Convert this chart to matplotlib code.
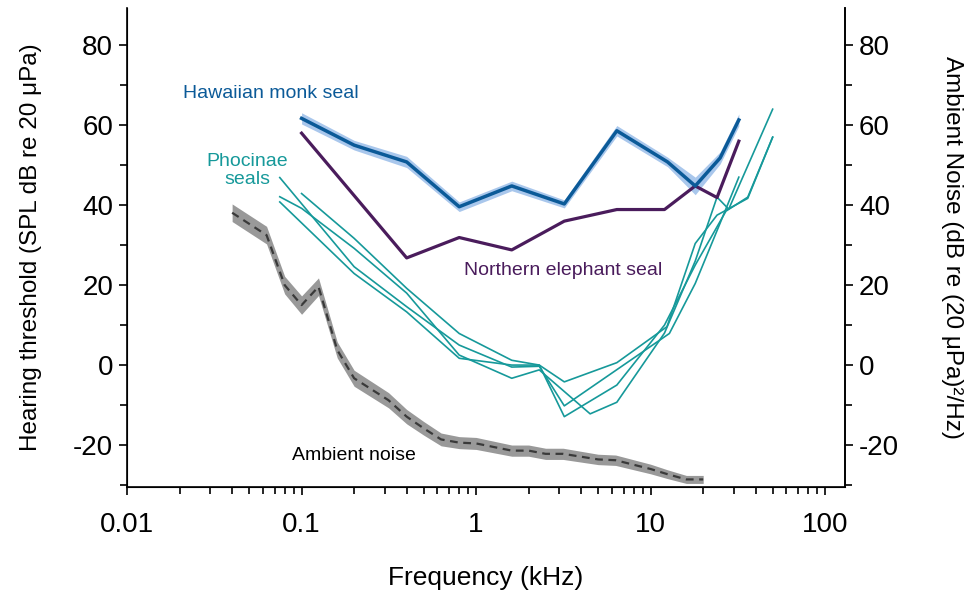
import matplotlib
matplotlib.use("Agg")
import matplotlib.pyplot as plt
import matplotlib.ticker as mticker
import numpy as np

plt.rcParams['font.family'] = ['Liberation Sans', 'DejaVu Sans']
plt.rcParams['axes.unicode_minus'] = False

# Hawaiian monk seal (mean + spread)
monk_khz = [0.1, 0.2, 0.4, 0.8, 1.6, 3.2, 6.4, 12.5, 18, 25, 32]
monk_db = [61.7, 55, 50.8, 39.6, 44.8, 40.3, 58.6, 50.8, 44.8, 51.8, 61.3]
monk_sd = [1.4, 1.2, 1.4, 1.2, 1.2, 1.0, 1.3, 1.2, 2.2, 1.5, 1.5]

# Northern elephant seal
eleph_khz = [0.1, 0.2, 0.4, 0.8, 1.6, 3.2, 6.4, 12, 18, 24, 32]
eleph_db = [58, 42.4, 26.8, 31.9, 28.8, 36, 38.9, 38.9, 44.8, 41.9, 56]

# Phocinae seals (four audiograms)
phoc1_khz = [0.1, 0.2, 0.4, 0.8, 1.6, 2.3, 3.2, 6.4, 12.4, 18, 24, 36, 50]
phoc1_db = [42.9, 31.7, 19.2, 7.9, 1.2, 0, -4.2, 0.6, 9.6, 30.4, 37.5, 41.7, 57]
phoc2_khz = [0.075, 0.2, 0.4, 0.8, 1.6, 2.3, 3.2, 12.8, 18, 25, 32]
phoc2_db = [46.9, 24.6, 14.6, 5, -0.5, -0.3, -10.2, 7.9, 20.4, 35.5, 47]
phoc3_khz = [0.075, 0.1, 0.2, 0.4, 0.8, 1.6, 2.3, 4.5, 6.4, 12, 18, 24, 28, 50]
phoc3_db = [42.1, 39.2, 29.2, 18, 2.5, -3.3, -1.2, -12.2, -9.3, 8, 26, 42, 39, 64]
phoc4_khz = [0.075, 0.2, 0.4, 0.8, 1.6, 2.3, 3.2, 6.4, 12, 18, 27, 36, 50]
phoc4_db = [40.8, 22.9, 13.3, 1.7, 0, 0, -12.9, -5, 10, 25, 38.5, 42, 57]

# Ambient noise (mean + spread)
amb_khz = [0.04, 0.063, 0.08, 0.1, 0.125, 0.16, 0.2, 0.315, 0.4, 0.5, 0.63, 0.8,
           1.0, 1.6, 2.0, 2.5, 3.15, 5.0, 6.3, 10, 12.5, 16, 20]
amb_db = [38.1, 32.5, 20, 15, 19.6, 3.8, -3.3, -8.8, -12.9, -15.8, -18.6, -19.4,
          -19.6, -21.4, -21.4, -22.2, -22.2, -23.6, -23.8, -26, -27.3, -28.6, -28.6]
amb_sd = [2.2, 2.2, 2.2, 2.3, 2.2, 2.0, 2.0, 1.9, 1.8, 1.7, 1.6, 1.5,
          1.5, 1.4, 1.4, 1.4, 1.4, 1.3, 1.3, 1.2, 1.1, 1.0, 1.0]

teal = "#16999a"
monk_c = "#0b5a98"
eleph_c = "#4a1c5c"

fig = plt.figure(figsize=(9.78, 5.94), dpi=100)
ax = fig.add_axes([0.1299, 0.1801, 0.7342, 0.8064])

# ambient noise band + dashed mean
a = np.array(amb_db)
s = np.array(amb_sd)
ax.fill_between(amb_khz, a - s, a + s, color="#999999", lw=0)
ax.plot(amb_khz, amb_db, color="#3a3a3a", lw=1.6, ls=(0, (3.5, 2.5)))

# phocinae
for fk, db in [(phoc1_khz, phoc1_db), (phoc2_khz, phoc2_db),
               (phoc3_khz, phoc3_db), (phoc4_khz, phoc4_db)]:
    ax.plot(fk, db, color=teal, lw=1.2)

# elephant seal
ax.plot(eleph_khz, eleph_db, color=eleph_c, lw=2.3)

# monk seal
m = np.array(monk_db)
sd = np.array(monk_sd)
ax.fill_between(monk_khz, m - sd, m + sd, color="#a9c7ec", lw=0)
ax.plot(monk_khz, monk_db, color=monk_c, lw=2.5)

ax.set_xscale("log")
ax.set_xlim(0.01, 130)
ax.set_ylim(-30.5, 89.3)

ax.xaxis.set_major_locator(mticker.FixedLocator([0.01, 0.1, 1, 10, 100]))
ax.xaxis.set_major_formatter(mticker.FixedFormatter(["0.01", "0.1", "1", "10", "100"]))
ax.xaxis.set_minor_locator(mticker.LogLocator(base=10, subs=np.arange(2, 10), numticks=20))
ax.xaxis.set_minor_formatter(mticker.NullFormatter())
ax.yaxis.set_major_locator(mticker.MultipleLocator(20))
ax.yaxis.set_minor_locator(mticker.FixedLocator([70, 50, 30, 10, -10, -30]))

ax.spines["top"].set_visible(False)
for sp in ["left", "right", "bottom"]:
    ax.spines[sp].set_linewidth(1.2)

ax.tick_params(which="major", direction="out", length=6, width=1.2, labelsize=20, pad=4)
ax.tick_params(which="minor", direction="out", length=5, width=1.2)
ax.tick_params(axis="x", which="major", pad=12)

ax2 = ax.twinx()
ax2.set_ylim(ax.get_ylim())
ax2.yaxis.set_major_locator(mticker.MultipleLocator(20))
ax2.yaxis.set_minor_locator(mticker.FixedLocator([70, 50, 30, 10, -10, -30]))
ax2.spines["top"].set_visible(False)
ax2.spines["right"].set_linewidth(1.2)
ax2.tick_params(which="major", direction="out", length=6, width=1.2, labelsize=20, pad=4)
ax2.tick_params(which="minor", direction="out", length=5, width=1.2)

ax.set_xlabel("Frequency (kHz)", fontsize=19, labelpad=20)
ax.set_ylabel("Hearing threshold (SPL dB re 20 \u03bcPa)", fontsize=17.5, labelpad=22)
ax2.set_ylabel("Ambient Noise (dB re (20 \u03bcPa)\u00b2/Hz)", fontsize=17.5,
               rotation=270, labelpad=46)

# labels
ax.text(0.0668, 68, "Hawaiian monk seal", color=monk_c, fontsize=14, ha="center", va="center")
ax.text(0.0487, 48.7, "Phocinae\nseals", color=teal, fontsize=14, ha="center", va="center",
        linespacing=1.1)
ax.text(3.15, 23.7, "Northern elephant seal", color=eleph_c, fontsize=14, ha="center", va="center")
ax.text(0.2, -22.5, "Ambient noise", color="black", fontsize=14, ha="center", va="center")

fig.savefig("out.png", dpi=100)
